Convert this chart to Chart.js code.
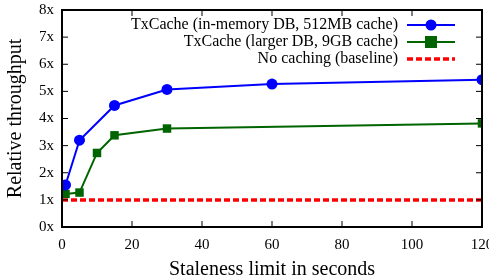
<!DOCTYPE html>
<html>
<head>
<meta charset="utf-8">
<script src="https://cdn.jsdelivr.net/npm/chart.js@4"></script>
<style>
  html, body { margin: 0; padding: 0; background: #fff; }
  #wrap { width: 489px; height: 279px; }
</style>
</head>
<body>
<div id="wrap"><canvas id="throughputChart"></canvas></div>
<script>
const inMemX = [1, 5, 15, 30, 60, 120];
const inMemY = [1.55, 3.2, 4.48, 5.07, 5.27, 5.43];
const largerX = [1, 5, 10, 15, 30, 120];
const largerY = [1.22, 1.27, 2.73, 3.38, 3.63, 3.82];
const baselineX = [0, 120];
const baselineY = [1, 1];
const seriesLabels = [
    'TxCache (in-memory DB, 512MB cache)',
    'TxCache (larger DB, 9GB cache)',
    'No caching (baseline)'
];

const toPoints = (xs, ys) => xs.map((x, i) => ({ x: x, y: ys[i] }));
const serif = '"Liberation Serif", "Times New Roman", serif';

// gnuplot-like frame with inward ticks on all four sides
const framePlugin = {
    id: 'frame',
    afterDraw(chart) {
        const { ctx, chartArea: a, scales } = chart;
        ctx.save();
        ctx.strokeStyle = '#000';
        ctx.lineWidth = 2;
        ctx.strokeRect(a.left, a.top, a.right - a.left, a.bottom - a.top);
        ctx.lineWidth = 1;
        const len = 6;
        scales.x.ticks.forEach(t => {
            const px = scales.x.getPixelForValue(t.value);
            ctx.beginPath();
            ctx.moveTo(px, a.bottom); ctx.lineTo(px, a.bottom - len);
            ctx.moveTo(px, a.top); ctx.lineTo(px, a.top + len);
            ctx.stroke();
        });
        scales.y.ticks.forEach(t => {
            const py = scales.y.getPixelForValue(t.value);
            ctx.beginPath();
            ctx.moveTo(a.left, py); ctx.lineTo(a.left + len, py);
            ctx.moveTo(a.right, py); ctx.lineTo(a.right - len, py);
            ctx.stroke();
        });
        ctx.restore();
    }
};

// legend inside the plot, text right-aligned and sample line to its right
const keyPlugin = {
    id: 'key',
    afterDraw(chart) {
        const { ctx, chartArea: a } = chart;
        ctx.save();
        ctx.font = '16px ' + serif;
        ctx.textAlign = 'right';
        ctx.textBaseline = 'middle';
        ctx.fillStyle = '#000';
        const sampleRight = a.right - 27;
        const sampleLeft = sampleRight - 48;
        chart.data.datasets.forEach((ds, i) => {
            const y = a.top + 15 + i * 17;
            ctx.fillText(ds.label, sampleLeft - 9, y);
            ctx.strokeStyle = ds.borderColor;
            ctx.lineWidth = ds.borderWidth;
            ctx.setLineDash(ds.borderDash || []);
            ctx.beginPath();
            ctx.moveTo(sampleLeft, y); ctx.lineTo(sampleRight, y);
            ctx.stroke();
            ctx.setLineDash([]);
            const mx = (sampleLeft + sampleRight) / 2;
            ctx.fillStyle = ds.pointBackgroundColor;
            if (ds.pointStyle === 'circle') {
                ctx.beginPath();
                ctx.arc(mx, y, ds.pointRadius, 0, Math.PI * 2);
                ctx.fill();
            } else if (ds.pointStyle === 'rect') {
                const r = ds.pointRadius;
                ctx.fillRect(mx - r, y - r, 2 * r, 2 * r);
            }
            ctx.fillStyle = '#000';
        });
        ctx.restore();
    }
};

new Chart(document.getElementById('throughputChart'), {
    type: 'line',
    data: {
        datasets: [{
            label: seriesLabels[0],
            data: toPoints(inMemX, inMemY),
            borderColor: '#0000ff',
            backgroundColor: '#0000ff',
            pointBackgroundColor: '#0000ff',
            pointBorderWidth: 0,
            borderWidth: 2,
            pointStyle: 'circle',
            pointRadius: 5.5
        }, {
            label: seriesLabels[1],
            data: toPoints(largerX, largerY),
            borderColor: '#006400',
            backgroundColor: '#006400',
            pointBackgroundColor: '#006400',
            pointBorderWidth: 0,
            borderWidth: 2,
            pointStyle: 'rect',
            pointRadius: 6
        }, {
            label: seriesLabels[2],
            data: toPoints(baselineX, baselineY),
            borderColor: '#ff0000',
            backgroundColor: '#ff0000',
            pointBackgroundColor: '#ff0000',
            borderWidth: 3.5,
            borderDash: [6, 3],
            pointStyle: false,
            pointRadius: 0
        }]
    },
    options: {
        responsive: true,
        maintainAspectRatio: false,
        animation: false,
        layout: { padding: { top: 10, right: 7, left: 4, bottom: 0 } },
        plugins: {
            legend: { display: false },
            tooltip: { enabled: false }
        },
        scales: {
            x: {
                type: 'linear',
                min: 0,
                max: 120,
                afterFit: scale => { scale.paddingRight = 0; scale.height = 52; },
                ticks: { stepSize: 20, color: '#000', font: { family: serif, size: 15 }, padding: 9 },
                grid: { display: false, drawTicks: false },
                border: { display: false },
                title: { display: true, text: 'Staleness limit in seconds', color: '#000', font: { family: serif, size: 20 }, padding: { top: 0, bottom: -3 } }
            },
            y: {
                min: 0,
                max: 8,
                afterFit: scale => { scale.paddingTop = 0; scale.paddingBottom = 0; },
                ticks: { stepSize: 1, color: '#000', font: { family: serif, size: 15 }, padding: 8, callback: v => v + 'x' },
                grid: { display: false, drawTicks: false },
                border: { display: false },
                title: { display: true, text: 'Relative throughput', color: '#000', font: { family: serif, size: 20 }, padding: { top: 0, bottom: 3 } }
            }
        }
    },
    plugins: [framePlugin, keyPlugin]
});
</script>
</body>
</html>
